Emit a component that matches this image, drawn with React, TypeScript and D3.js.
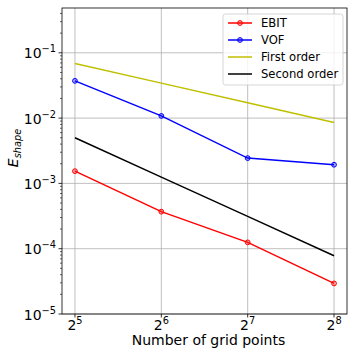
import React from "react";
import * as d3 from "d3";

// grid sizes (powers of two) and the measured errors
const gridPoints = [32, 64, 128, 256];
const ebit = [1.54e-3, 3.69e-4, 1.25e-4, 2.94e-5];
const vof = [3.72e-2, 1.08e-2, 2.44e-3, 1.93e-3];
const firstOrder = [6.86e-2, 3.43e-2, 1.715e-2, 8.58e-3];
const secondOrder = [5.0e-3, 1.25e-3, 3.125e-4, 7.8e-5];
const xTickExps = [5, 6, 7, 8];
const yTickExps = [-5, -4, -3, -2, -1];

const series = [
  { name: "EBIT", values: ebit, color: "#ff0000", marker: true },
  { name: "VOF", values: vof, color: "#0000ff", marker: true },
  { name: "First order", values: firstOrder, color: "#bfbf00", marker: false },
  { name: "Second order", values: secondOrder, color: "#000000", marker: false },
];

const W = 357;
const H = 357;
const plot = { left: 62, right: 347, top: 8, bottom: 314 };
const font = "DejaVu Sans, sans-serif";

export default function App() {
  const x = d3
    .scaleLog()
    .base(2)
    .domain([Math.pow(2, 4.85), Math.pow(2, 8.15)])
    .range([plot.left, plot.right]);
  const y = d3
    .scaleLog()
    .domain([1e-5, Math.pow(10, -0.314)])
    .range([plot.bottom, plot.top]);

  const line = d3
    .line<number>()
    .x((_, i) => x(gridPoints[i]))
    .y((d) => y(d));

  const minorTicks: number[] = [];
  for (let e = -5; e <= -1; e++) {
    for (let m = 2; m <= 9; m++) {
      const v = m * Math.pow(10, e);
      if (v <= y.domain()[1]) minorTicks.push(v);
    }
  }

  const legX = 223;
  const legY = 14;
  const legRow = 17;

  return (
    <svg
      width={W}
      height={H}
      style={{ position: "fixed", top: 0, left: 0, background: "#fff" }}
      fontFamily={font}
    >
      <rect width={W} height={H} fill="#fff" />
      {/* grid */}
      {xTickExps.map((e) => (
        <line
          key={`gx${e}`}
          x1={x(Math.pow(2, e))}
          x2={x(Math.pow(2, e))}
          y1={plot.top}
          y2={plot.bottom}
          stroke="#b0b0b0"
          strokeWidth={0.8}
        />
      ))}
      {yTickExps.map((e) => (
        <line
          key={`gy${e}`}
          x1={plot.left}
          x2={plot.right}
          y1={y(Math.pow(10, e))}
          y2={y(Math.pow(10, e))}
          stroke="#b0b0b0"
          strokeWidth={0.8}
        />
      ))}

      {/* series */}
      {series.map((s) => (
        <g key={s.name}>
          <path d={line(s.values) || undefined} fill="none" stroke={s.color} strokeWidth={1.5} />
          {s.marker &&
            s.values.map((v, i) => (
              <circle
                key={i}
                cx={x(gridPoints[i])}
                cy={y(v)}
                r={2.4}
                fill={s.color}
                fillOpacity={0.3}
                stroke={s.color}
                strokeWidth={1}
              />
            ))}
        </g>
      ))}

      {/* axes frame */}
      <rect
        x={plot.left}
        y={plot.top}
        width={plot.right - plot.left}
        height={plot.bottom - plot.top}
        fill="none"
        stroke="#000"
        strokeWidth={0.8}
      />

      {/* x ticks */}
      {xTickExps.map((e) => {
        const px = x(Math.pow(2, e));
        return (
          <g key={`xt${e}`}>
            <line x1={px} x2={px} y1={plot.bottom} y2={plot.bottom + 3.5} stroke="#000" strokeWidth={0.8} />
            <text x={px} y={plot.bottom + 16} fontSize={14} textAnchor="middle" fill="#000">
              2<tspan fontSize={9.8} dy={-6}>{e}</tspan>
            </text>
          </g>
        );
      })}

      {/* y ticks */}
      {minorTicks.map((v, i) => (
        <line key={`ym${i}`} x1={plot.left - 2} x2={plot.left} y1={y(v)} y2={y(v)} stroke="#000" strokeWidth={0.6} />
      ))}
      {yTickExps.map((e) => {
        const py = y(Math.pow(10, e));
        return (
          <g key={`yt${e}`}>
            <line x1={plot.left - 3.5} x2={plot.left} y1={py} y2={py} stroke="#000" strokeWidth={0.8} />
            <text x={plot.left - 6} y={py + 5.5} fontSize={14} textAnchor="end" fill="#000">
              10<tspan fontSize={9.8} dy={-6}>{`\u2212${-e}`}</tspan>
            </text>
          </g>
        );
      })}

      {/* axis labels */}
      <text
        x={(plot.left + plot.right) / 2 + 4}
        y={345}
        fontSize={14}
        textAnchor="middle"
        fill="#000"
      >
        Number of grid points
      </text>
      <text transform="translate(18,148) rotate(-90)" fontSize={14} textAnchor="middle" fill="#000">
        <tspan fontStyle="italic">E</tspan>
        <tspan fontStyle="italic" fontSize={9.8} dy={3}>
          shape
        </tspan>
      </text>

      {/* legend */}
      <rect
        x={legX}
        y={legY}
        width={120}
        height={71}
        rx={2.5}
        fill="#fff"
        fillOpacity={0.8}
        stroke="#cccccc"
        strokeWidth={0.8}
      />
      {series.map((s, i) => {
        const ly = legY + 9 + i * legRow;
        return (
          <g key={`leg${s.name}`}>
            <line x1={legX + 5} x2={legX + 29} y1={ly} y2={ly} stroke={s.color} strokeWidth={1.5} />
            {s.marker && (
              <circle
                cx={legX + 17}
                cy={ly}
                r={2.4}
                fill={s.color}
                fillOpacity={0.3}
                stroke={s.color}
                strokeWidth={1}
              />
            )}
            <text x={legX + 38} y={ly + 4.3} fontSize={11.6} fill="#000">
              {s.name}
            </text>
          </g>
        );
      })}
    </svg>
  );
}
